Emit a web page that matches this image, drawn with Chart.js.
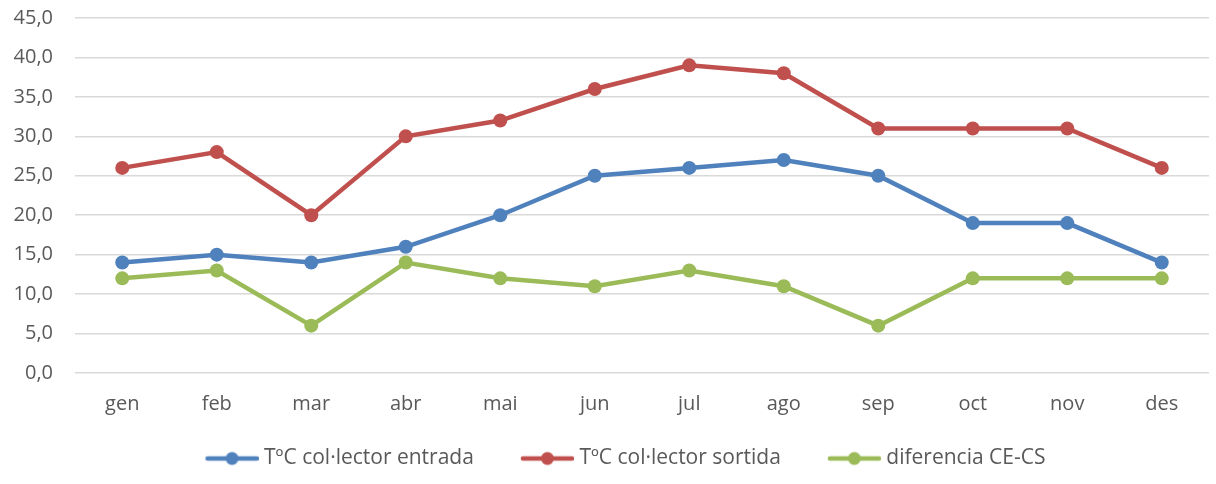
<!DOCTYPE html>
<html lang="en">
<head>
  <meta charset="UTF-8" />
  <title>Temperatura col·lector</title>
  <script src="https://cdn.jsdelivr.net/npm/chart.js"></script>
  <style>
    html, body { margin: 0; padding: 0; background: #fff; }
    #wrap { width: 1216px; height: 484px; }
  </style>
</head>
<body>
  <div id="wrap"><canvas id="chart" width="1216" height="484"></canvas></div>

  <script>
    const months = ["gen", "feb", "mar", "abr", "mai", "jun", "jul", "ago", "sep", "oct", "nov", "des"];
    const entrada = [14, 15, 14, 16, 20, 25, 26, 27, 25, 19, 19, 14];
    const sortida = [26, 28, 20, 30, 32, 36, 39, 38, 31, 31, 31, 26];
    const diferencia = [12, 13, 6, 14, 12, 11, 13, 11, 6, 12, 12, 12];
    const seriesNames = ["TºC col·lector entrada", "TºC col·lector sortida", "diferencia CE-CS"];
    const colors = ["#4F81BD", "#C0504D", "#9BBB59"];

    const FONT = "'Open Sans', Lato, sans-serif";
    const FSIZE = 20;
    const TEXT = "#595959";

    // legend marker: short line with a dot, left part is empty space (gap between items)
    const MARK_BOX = 85;
    function legendMarker(color) {
      const c = document.createElement("canvas");
      c.width = MARK_BOX + 10; c.height = 16;
      const g = c.getContext("2d");
      const x0 = 42, x1 = 95;
      g.strokeStyle = color;
      g.lineWidth = 4.5;
      g.lineCap = "round";
      g.beginPath();
      g.moveTo(x0 + 2, 8); g.lineTo(x1 - 2, 8);
      g.stroke();
      g.fillStyle = color;
      g.beginPath();
      g.arc((x0 + x1) / 2, 8, 6.5, 0, Math.PI * 2);
      g.fill();
      return c;
    }

    const allData = [entrada, sortida, diferencia];
    const datasets = allData.map((d, i) => ({
      label: seriesNames[i],
      data: d,
      borderColor: colors[i],
      backgroundColor: colors[i],
      borderWidth: 4.5,
      pointRadius: 7,
      pointHoverRadius: 7,
      pointBorderWidth: 0,
      pointStyle: "circle",
      tension: 0,
      fill: false
    }));
    const markers = colors.map(legendMarker);

    new Chart(document.getElementById("chart"), {
      type: "line",
      data: { labels: months, datasets: datasets },
      options: {
        responsive: false,
        animation: false,
        layout: { padding: { top: 18, right: 2, left: 0, bottom: 5 } },
        scales: {
          x: {
            offset: true,
            grid: { display: false, drawTicks: false },
            border: { display: false },
            ticks: { color: TEXT, font: { family: FONT, size: FSIZE }, padding: 19 },
            afterFit: s => { s.height = 65; }
          },
          y: {
            min: 0,
            max: 45,
            grid: { color: "#D9D9D9", lineWidth: 1.5, drawTicks: false },
            border: { display: false },
            ticks: {
              stepSize: 5,
              color: TEXT,
              padding: 22,
              font: { family: FONT, size: FSIZE },
              callback: v => v.toFixed(1).replace(".", ",")
            },
            afterFit: s => { s.width = 75; s.paddingTop = 0; s.paddingBottom = 0; }
          }
        },
        plugins: {
          tooltip: { enabled: false },
          legend: {
            position: "bottom",
            labels: {
              color: TEXT,
              font: { family: FONT, size: 21 },
              usePointStyle: true,
              pointStyleWidth: MARK_BOX,
              padding: 10,
              generateLabels: chart => chart.data.datasets.map((ds, i) => ({
                text: ds.label,
                fontColor: TEXT,
                pointStyle: markers[i],
                datasetIndex: i,
                lineWidth: 0,
                strokeStyle: "transparent",
                fillStyle: ds.borderColor
              }))
            }
          }
        }
      }
    });
  </script>
</body>
</html>
